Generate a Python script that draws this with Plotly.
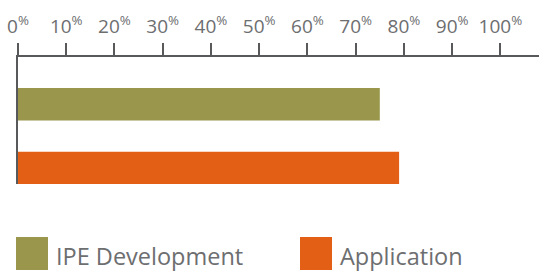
import plotly.graph_objects as go

# Data
categories = ["Application", "IPE Development"]   # bottom to top
values = [79, 75]
colors = ["#e25f15", "#9a964c"]
legend_names = ["IPE Development", "Application"]
legend_colors = ["#9a964c", "#e25f15"]
tick_vals = [0, 10, 20, 30, 40, 50, 60, 70, 80, 90, 100]
tick_text = [f"{v}<sup>%</sup>" for v in tick_vals]

AXIS = "#58595b"
TEXT = "#6d6e70"
FONT = "Open Sans"

W, H = 539, 272
L, R, T, B = 18, 0, 57, 88
PW, PH = W - L - R, H - T - B

def px_x(x):
    return (x - L) / PW

def px_y(y):
    return (H - B - y) / PH

fig = go.Figure()
fig.add_trace(go.Bar(
    y=categories, x=values, orientation="h",
    marker=dict(color=colors, line=dict(width=0)),
    width=0.51, showlegend=False, hoverinfo="skip",
))

fig.update_layout(
    width=W, height=H,
    margin=dict(l=L, r=R, t=T, b=B),
    paper_bgcolor="white", plot_bgcolor="white",
    showlegend=False,
    font=dict(family=FONT, color=TEXT),
    xaxis=dict(
        side="top", range=[0, 108], tickvals=tick_vals, ticktext=tick_text,
        ticks="outside", ticklen=12, tickwidth=2, tickcolor=AXIS,
        showline=True, linewidth=2, linecolor=AXIS,
        showgrid=False, zeroline=False, automargin=False,
        tickfont=dict(size=19, color=TEXT, family=FONT),
        ticklabelstandoff=2,
    ),
    yaxis=dict(
        type="category", categoryarray=categories, range=[-0.25, 1.74],
        showline=True, linewidth=2, linecolor=AXIS, automargin=False,
        showticklabels=False, ticks="", showgrid=False, zeroline=False,
    ),
)

# Legend drawn as shapes + annotations
legend_x = [16, 300]
for i, (name, col) in enumerate(zip(legend_names, legend_colors)):
    x0 = legend_x[i]
    fig.add_shape(type="rect", xref="paper", yref="paper",
                  x0=px_x(x0), x1=px_x(x0 + 32),
                  y0=px_y(270), y1=px_y(237),
                  line=dict(width=0), fillcolor=col)
    fig.add_annotation(xref="paper", yref="paper",
                       x=px_x(x0 + 38), y=px_y(256),
                       xanchor="left", yanchor="middle",
                       text=name, showarrow=False,
                       font=dict(size=23.5, color=TEXT, family=FONT))

fig.write_html("out.html",
               config={"displayModeBar": False, "staticPlot": True},
               post_script="document.body.style.margin='0';document.body.style.overflow='hidden';")
